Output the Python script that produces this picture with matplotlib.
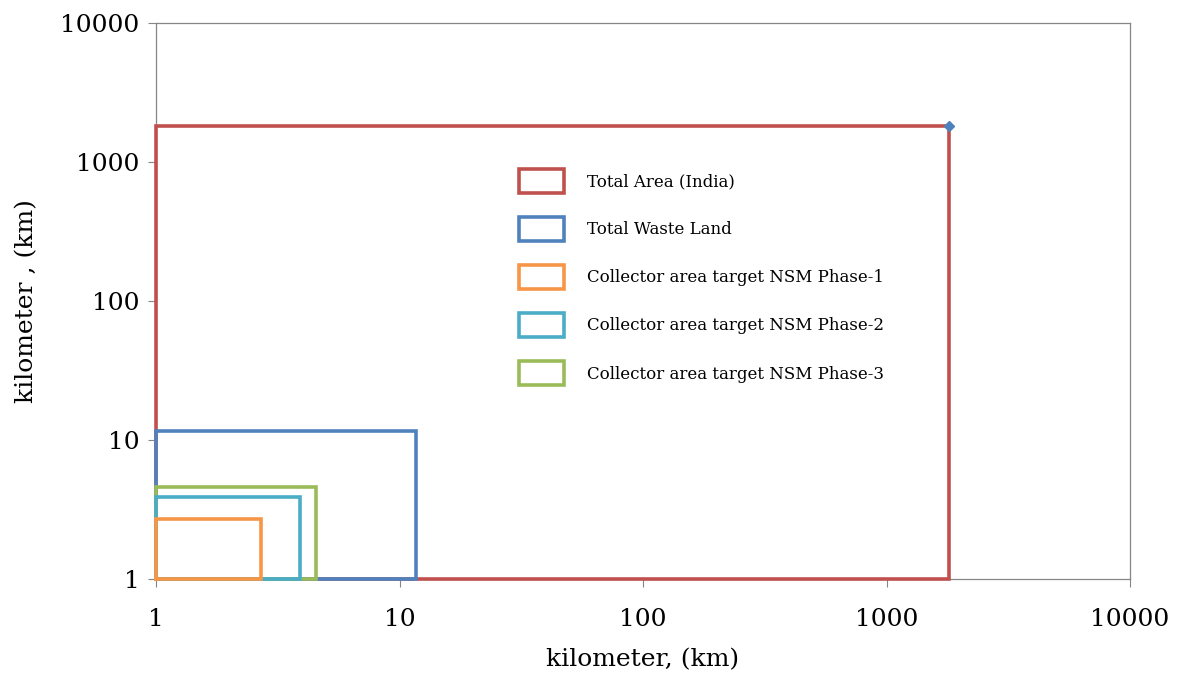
import matplotlib.pyplot as plt
from matplotlib.patches import Patch

# side length (km) of square area, drawn from (1,1) to (side, side)
labels = ['Total Area (India)', 'Total Waste Land',
          'Collector area target NSM Phase-1',
          'Collector area target NSM Phase-2',
          'Collector area target NSM Phase-3']
sides = [1813, 11.7, 2.7, 3.9, 4.56]
colors = ['#C0504D', '#4F81BD', '#F79646', '#4BACC6', '#9BBB59']
draw_order = [0, 1, 4, 3, 2]

ticks = [1, 10, 100, 1000, 10000]
tick_labels = ['1', '10', '100', '1000', '10000']

plt.rcParams['font.family'] = ['DejaVu Serif']

fig = plt.figure(figsize=(11.79, 6.77), dpi=100)
ax = fig.add_axes([156 / 1179, 1 - 579 / 677, (1130 - 156) / 1179, (579 - 23) / 677])

for i in draw_order:
    s = sides[i]
    ax.plot([1, s, s, 1, 1], [1, 1, s, s, 1], color=colors[i], lw=2.6,
            solid_joinstyle='miter', clip_on=False, zorder=3 + draw_order.index(i))

ax.plot([sides[0]], [sides[0]], marker='D', color='#4F81BD', ms=5.5,
        clip_on=False, zorder=10)

ax.set_xscale('log')
ax.set_yscale('log')
ax.set_xlim(1, 10000)
ax.set_ylim(1, 10000)
ax.set_xticks(ticks)
ax.set_xticklabels(tick_labels)
ax.set_yticks(ticks)
ax.set_yticklabels(tick_labels)
ax.minorticks_off()
ax.tick_params(axis='both', direction='out', length=6, color='#868686',
               labelsize=18)
ax.tick_params(axis='x', pad=15)
ax.tick_params(axis='y', pad=6)
for sp in ax.spines.values():
    sp.set_color('#868686')
    sp.set_linewidth(0.9)

ax.set_xlabel('kilometer, (km)', fontsize=18, labelpad=12)
ax.set_ylabel('kilometer , (km)', fontsize=18, labelpad=16)

handles = [Patch(facecolor='none', edgecolor=c, linewidth=2.6) for c in colors]
fig.legend(handles, labels, loc='upper left',
           bbox_to_anchor=(504 / 1179, 1 - 154 / 677), frameon=False,
           fontsize=12, handlelength=2.7, handleheight=1.8,
           handletextpad=1.4, labelspacing=1.47)

plt.savefig('out.png', dpi=100)
